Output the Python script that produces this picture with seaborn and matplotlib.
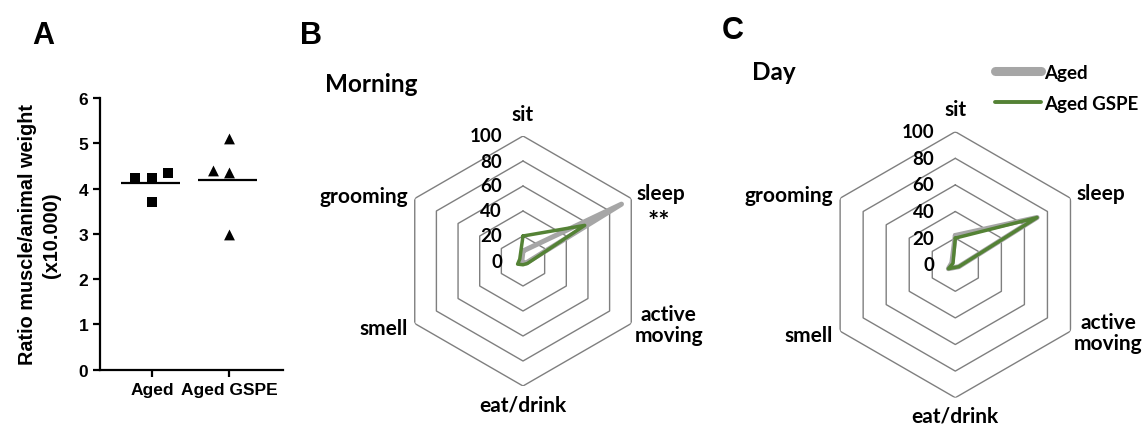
import numpy as np
import pandas as pd
import matplotlib.pyplot as plt
from matplotlib.lines import Line2D
from matplotlib.path import Path
import seaborn as sns

# panel A data
groups = ['Aged', 'Aged GSPE']
aged_ratio = [4.34, 4.23, 4.23, 3.70]
gspe_ratio = [4.38, 4.34, 5.10, 2.98]

# radar data (% of time)
behaviours = ['sit', 'sleep', 'active\nmoving', 'eat/drink', 'smell', 'grooming']
morning_aged = [8, 91, 3, 1, 1, 1]
morning_gspe = [20, 57, 4, 3, 5, 3]
day_aged = [22, 71, 3, 2, 6, 3]
day_gspe = [20, 71, 3, 2, 6, 2]
radial_ticks = [0, 20, 40, 60, 80, 100]

GRAY = '#a6a6a6'
GREEN = '#548235'
GRID = '#7f7f7f'

sns.set_style('white')
plt.rcParams['font.family'] = ['Liberation Sans', 'DejaVu Sans']
plt.rcParams['font.weight'] = 'bold'
for k in ['text.color', 'axes.labelcolor', 'xtick.color', 'ytick.color']:
    plt.rcParams[k] = 'black'
CAL = ['Lato', 'DejaVu Sans']


def small_marker(verts):
    # marker drawn smaller than its nominal size, so the swarm keeps a gap
    v = [(0.5, 0.5)] + verts + [verts[0]]
    codes = [Path.MOVETO, Path.MOVETO] + [Path.LINETO] * (len(verts) - 1) + [Path.CLOSEPOLY]
    return Path(v, codes)


h = 0.34
square = small_marker([(-h, -h), (h, -h), (h, h), (-h, h)])
triangle = small_marker([(-h, -h * 0.9), (h, -h * 0.9), (0, h * 1.1)])

fig = plt.figure(figsize=(11.43, 4.27), dpi=100)

# ---------------- panel A ----------------
df_ratio = pd.DataFrame({
    'group': ['Aged'] * len(aged_ratio) + ['Aged GSPE'] * len(gspe_ratio),
    'ratio': aged_ratio + gspe_ratio,
})

ax_a = fig.add_axes([100 / 1143, 56.3 / 427, 183 / 1143, 271.7 / 427])
sns.swarmplot(data=df_ratio[df_ratio['group'] == 'Aged'], x='group', y='ratio',
              order=groups, marker=square, color='black', size=11.5, linewidth=0, ax=ax_a)
sns.swarmplot(data=df_ratio[df_ratio['group'] == 'Aged GSPE'], x='group', y='ratio',
              order=groups, marker=triangle, color='black', size=11.5, linewidth=0, ax=ax_a)
means = df_ratio.groupby('group')['ratio'].mean()
for i, g in enumerate(groups):
    ax_a.hlines(means[g], i - 0.4, i + 0.36, color='black', lw=1.6)

ax_a.set_xlim(-0.67, 1.69)
ax_a.set_ylim(0, 6)
ax_a.set_yticks(range(0, 7))
sns.despine(ax=ax_a)
for s in ['left', 'bottom']:
    ax_a.spines[s].set_linewidth(1.6)
    ax_a.spines[s].set_color('black')
ax_a.tick_params(axis='both', direction='out', length=5, width=1.6, labelsize=12.5,
                 colors='black', left=True, bottom=True)
ax_a.set_xlabel('')
ax_a.set_ylabel('Ratio muscle/animal weight\n(x10.000)', fontsize=14.3,
                fontweight='bold', labelpad=12.5, linespacing=1.35)
for lab in ax_a.get_xticklabels() + ax_a.get_yticklabels():
    lab.set_fontweight('bold')

fig.text(32 / 1143, 1 - 36 / 427, 'A', fontsize=22, fontweight='bold', va='center')
fig.text(300 / 1143, 1 - 36 / 427, 'B', fontsize=22, fontweight='bold', va='center')
fig.text(722 / 1143, 1 - 31 / 427, 'C', fontsize=22, fontweight='bold', va='center')


# ---------------- radar panels ----------------
def radar(ax, aged, gspe, star=False):
    n = len(behaviours)
    theta = np.arange(n + 1) * 2 * np.pi / n
    df = pd.DataFrame({
        'theta': np.concatenate([theta, theta]),
        'value': aged + aged[:1] + gspe + gspe[:1],
        'group': ['Aged'] * (n + 1) + ['Aged GSPE'] * (n + 1),
    })
    ax.set_theta_zero_location('N')
    ax.set_theta_direction(-1)
    for r in radial_ticks[1:]:
        ax.plot(theta, [r] * (n + 1), color=GRID, lw=1.0, zorder=1)
    sns.lineplot(data=df, x='theta', y='value', hue='group', size='group',
                 sizes={'Aged': 3.6, 'Aged GSPE': 2.5},
                 palette={'Aged': GRAY, 'Aged GSPE': GREEN},
                 sort=False, estimator=None, legend=False, ax=ax, zorder=3)
    ax.set_ylim(0, 100)
    ax.grid(False)
    ax.spines['polar'].set_visible(False)
    ax.set_xticks([])
    ax.set_yticks([])
    ax.set_xlabel('')
    ax.set_ylabel('')
    ax.patch.set_alpha(0)
    for r in radial_ticks:
        ax.annotate(str(r), xy=(0, r), xytext=(-15, 0), textcoords='offset points',
                    ha='right', va='center', fontsize=13.5, fontweight='bold',
                    family=CAL, annotation_clip=False)
    offsets = [((0, 16), 'center'), ((4, 4), 'left'), ((27, -1), 'center'),
               ((0, -13), 'center'), ((-5, -3), 'right'), ((-5, 2), 'right')]
    for i, lab in enumerate(behaviours):
        (dx, dy), ha = offsets[i]
        ax.annotate(lab, xy=(theta[i], 100), xytext=(dx, dy), textcoords='offset points',
                    ha=ha, va='center', fontsize=15, fontweight='bold', family=CAL,
                    linespacing=1.05, annotation_clip=False)
    if star:
        ax.annotate('**', xy=(theta[1], 100), xytext=(20, -16), textcoords='offset points',
                    ha='center', va='center', fontsize=19, fontweight='bold', family=CAL,
                    annotation_clip=False)


ax_b = fig.add_axes([398 / 1143, 40 / 427, 250 / 1143, 250 / 427], projection='polar')
radar(ax_b, morning_aged, morning_gspe, star=True)
fig.text(325 / 1143, 1 - 84 / 427, 'Morning', fontsize=17.5, fontweight='bold',
         family=CAL, va='center')

ax_c = fig.add_axes([822.3 / 1143, 28.3 / 427, 266 / 1143, 266 / 427], projection='polar')
radar(ax_c, day_aged, day_gspe)
fig.text(752 / 1143, 1 - 72 / 427, 'Day', fontsize=17.5, fontweight='bold',
         family=CAL, va='center')

handles = [Line2D([], [], color=GRAY, lw=6.5, solid_capstyle='round'),
           Line2D([], [], color=GREEN, lw=2.8)]
fig.legend(handles, ['Aged', 'Aged GSPE'], loc='center left',
           bbox_to_anchor=(995 / 1143, 1 - 89 / 427), frameon=False,
           prop={'family': CAL, 'weight': 'bold', 'size': 13.5},
           handlelength=2.45, handletextpad=0.16, labelspacing=0.75,
           borderpad=0, borderaxespad=0)

fig.savefig('out.png', dpi=100)
